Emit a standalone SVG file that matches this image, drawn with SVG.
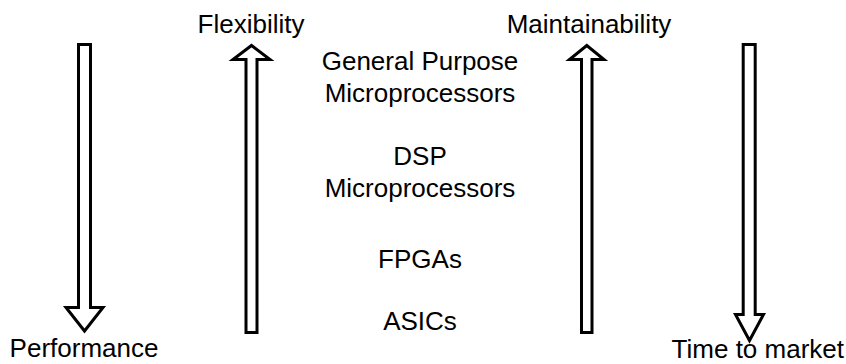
<svg xmlns="http://www.w3.org/2000/svg" width="846" height="364" viewBox="0 0 846 364">
<style>
.arrow{fill:#fff;stroke:#000;stroke-width:3;stroke-linejoin:miter;stroke-miterlimit:10}
text{font-family:"Liberation Sans",Arial,sans-serif;font-size:26px;fill:#000}
.c{text-anchor:middle}
</style>
<rect width="846" height="364" fill="#fff"/>
<g id="connectors">
<polygon id="arrow-performance" class="arrow" points="78.5,44.5 90.5,44.5 90.5,307.5 103,307.5 84.5,331 66,307.5 78.5,307.5"/>
<polygon id="arrow-flexibility" class="arrow" points="246,332.5 257,332.5 257,59.5 270,59.5 251.5,45.5 233,59.5 246,59.5"/>
<polygon id="arrow-maintainability" class="arrow" points="581.5,332.5 592,332.5 592,59.5 604,59.5 586.8,45.5 569.5,59.5 581.5,59.5"/>
<polygon id="arrow-time" class="arrow" points="743.2,44.5 755.2,44.5 755.2,314.5 763.5,314.5 749.5,340.5 735.5,314.5 743.2,314.5"/>
</g>
<g id="label-performance"><text class="c" x="84" y="357">Performance</text></g>
<g id="label-flexibility"><text class="c" x="251" y="33">Flexibility</text></g>
<g id="label-maintainability"><text class="c" x="589" y="33">Maintainability</text></g>
<g id="label-time"><text x="844" y="358" text-anchor="end">Time to market</text></g>
<g id="node-gpp"><text class="c" x="420" y="70">General Purpose</text><text class="c" x="420" y="102">Microprocessors</text></g>
<g id="node-dsp"><text class="c" x="420" y="165">DSP</text><text class="c" x="420" y="197">Microprocessors</text></g>
<g id="node-fpga"><text class="c" x="420" y="268">FPGAs</text></g>
<g id="node-asic"><text class="c" x="420" y="330">ASICs</text></g>
</svg>
